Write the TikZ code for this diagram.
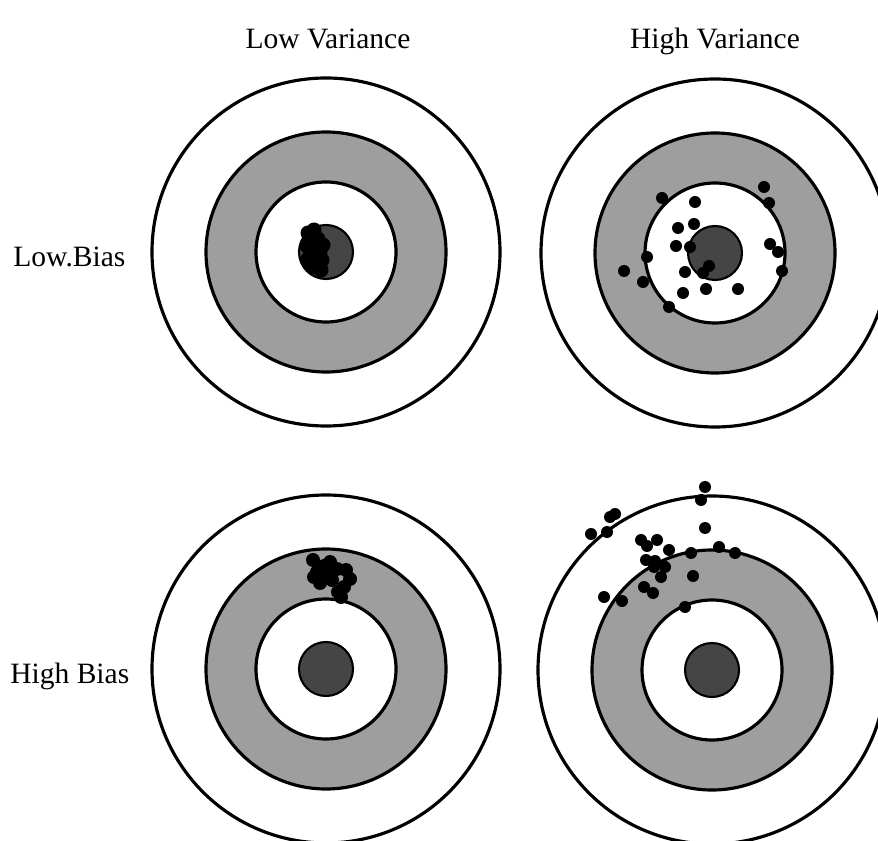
\documentclass[tikz,border=0pt]{standalone}
\usepackage{fontspec}
\setmainfont{Liberation Serif}
\usepackage{tikz}
\usepackage{xcolor}
\definecolor{ringgray}{gray}{0.62}
\definecolor{eyegray}{gray}{0.27}

\begin{document}
\begin{tikzpicture}[
            ring/.style={draw=black, line width=1.8pt},
            shot/.style={fill=black},
            label/.style={font=\fontsize{16.8}{20}\selectfont, inner sep=0pt}
        ]
            \useasboundingbox (0,0) rectangle (17.56,16.8);
            \clip (0,0) rectangle (17.56,16.8);

            % Column titles
            \node[label, anchor=base] (lowvar) at (6.56,15.82) {Low Variance};
            \node[label, anchor=base] (highvar) at (14.30,15.82) {High Variance};

            % Row titles
            \node[label, anchor=base west] (lowbias) at (0.26,11.46) {Low.Bias};
            \node[label, anchor=base west] (highbias) at (0.20,3.14) {High Bias};

            % Targets
            \foreach \cx/\cy in {6.52/11.76, 14.30/11.74, 6.52/3.42, 14.24/3.40} {
                \draw[ring, fill=white] (\cx,\cy) circle (3.48);
                \draw[ring, fill=ringgray] (\cx,\cy) circle (2.40);
                \draw[ring, fill=white] (\cx,\cy) circle (1.40);
                \draw[ring, fill=eyegray, line width=1.2pt] (\cx,\cy) circle (0.54);
            }

            % Low bias, low variance
            \foreach \x/\y in {6.16/12.14, 6.28/12.20, 6.14/11.88, 6.16/11.62, 6.28/11.46,
                               6.42/11.40, 6.36/12.02, 6.30/11.76, 6.44/11.60, 6.46/11.90,
                               6.22/12.00, 6.22/11.74, 6.36/11.52, 6.22/11.52, 6.40/11.76}
                \fill[shot] (\x,\y) circle (0.15);

            % Low bias, high variance
            \foreach \x/\y in {13.24/12.84, 13.90/12.76, 15.28/13.06, 15.38/12.74, 13.56/12.24,
                               13.88/12.32, 13.52/11.88, 13.80/11.86, 15.40/11.92, 15.56/11.76,
                               12.94/11.66, 12.48/11.38, 13.70/11.36, 15.64/11.38, 12.86/11.16,
                               14.12/11.02, 14.76/11.02, 13.66/10.94, 13.38/10.66, 14.18/11.48,
                               14.06/11.34}
                \fill[shot] (\x,\y) circle (0.12);

            % High bias, low variance
            \foreach \x/\y in {6.26/5.60, 6.38/5.46, 6.60/5.56, 6.52/5.34, 6.28/5.26,
                               6.40/5.14, 6.74/5.42, 6.92/5.40, 7.00/5.22, 6.88/5.06,
                               6.76/4.96, 6.82/4.86, 6.64/5.20, 6.48/5.48, 6.34/5.36}
                \fill[shot] (\x,\y) circle (0.14);

            % High bias, high variance
            \foreach \x/\y in {14.10/7.06, 14.02/6.80, 12.20/6.46, 12.30/6.52, 11.82/6.12,
                               12.14/6.16, 14.10/6.24, 12.82/6.00, 12.94/5.88, 13.14/6.00,
                               13.38/5.80, 13.82/5.74, 14.38/5.86, 14.70/5.74, 12.92/5.60,
                               13.10/5.58, 13.08/5.46, 13.30/5.46, 13.22/5.26, 13.86/5.28,
                               12.88/5.06, 13.06/4.94, 12.08/4.86, 12.44/4.78, 13.70/4.66}
                \fill[shot] (\x,\y) circle (0.12);
        \end{tikzpicture}
\end{document}
